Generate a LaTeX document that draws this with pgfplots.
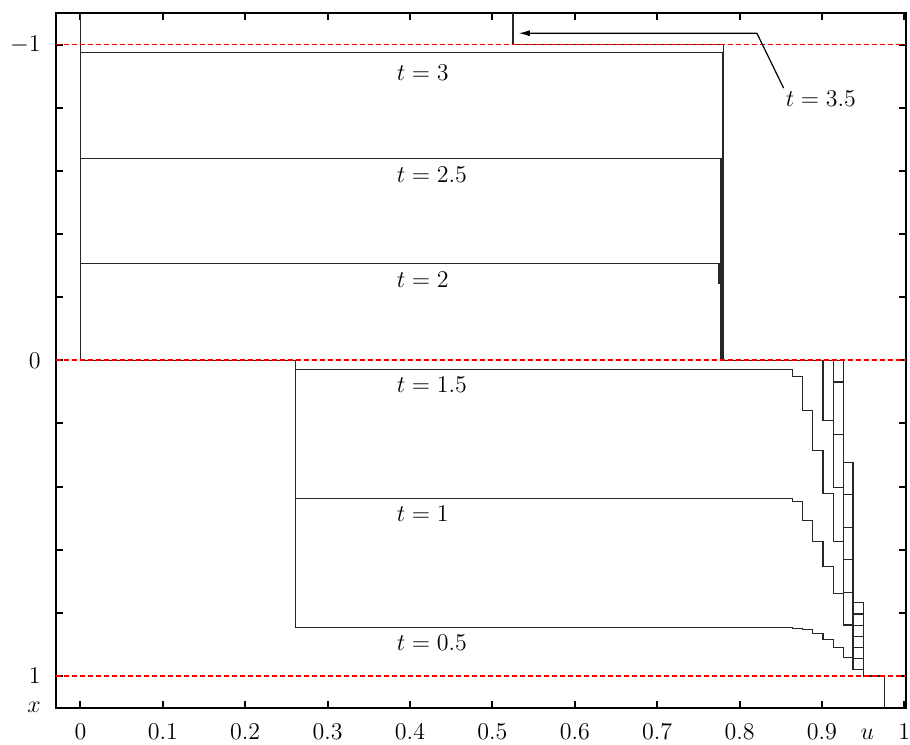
\documentclass[border=0pt]{standalone}
\usepackage{pgfplots}
\pgfplotsset{compat=1.18}
\usetikzlibrary{arrows.meta}
\begin{document}
\begin{tikzpicture}
\begin{axis}[
  scale only axis, width=425.2pt, height=347.3pt,
  xmin=-0.03, xmax=1.002, ymin=-1.1, ymax=1.1, y dir=reverse,
  xtick={0,0.1,0.2,0.3,0.4,0.5,0.6,0.7,0.8,0.9,1},
  xticklabels={$0$,$0.1$,$0.2$,$0.3$,$0.4$,$0.5$,$0.6$,$0.7$,$0.8$,$0.9$,$1$},
  ytick={-1,-0.8,-0.6,-0.4,-0.2,0,0.2,0.4,0.6,0.8,1},
  yticklabels={$-1$,,,,,$0$,,,,,$1$},
  tick align=inside, major tick length=3.5pt,
  tick style={black, line width=1pt},
  axis line style={line width=1pt},
  ticklabel style={font=\fontsize{12}{14}\selectfont},
  xticklabel style={yshift=-4.5pt},
  yticklabel style={xshift=-4pt},
  extra y ticks={1.1}, extra y tick labels={$x$},
  extra y tick style={major tick length=0pt},
  clip mode=individual,
  curve/.style={black!85, line width=0.55pt, solid, mark=none},
  refl/.style={red, line width=0.8pt, dash pattern=on 2.5pt off 1.5pt, mark=none},
]
% t = 3.5
\addplot[curve] coordinates {(0.525,-1.1) (0.525,-1.0) (0.780,-1.0) (0.780,0) (0.9256,0) (0.9256,0.3232) (0.9377,0.3232) (0.9377,0.7683) (0.9499,0.7683) (0.9499,1) (0.9757,1) (0.9757,1.1)};
% t = 3
\addplot[curve] coordinates {(0,-1.1) (0,-0.975) (0.779,-0.975) (0.779,0) (0.9135,0) (0.9135,0.0687) (0.9256,0.0687) (0.9256,0.4255) (0.9377,0.4255) (0.9377,0.8037) (0.9499,0.8037) (0.9499,1) (0.9757,1) (0.9757,1.1)};
% t = 2.5
\addplot[curve] coordinates {(0,-1.1) (0,-0.638) (0.7775,-0.638) (0.7775,0) (0.9135,0) (0.9135,0.2355) (0.9256,0.2355) (0.9256,0.5299) (0.9377,0.5299) (0.9377,0.8395) (0.9499,0.8395) (0.9499,1) (0.9757,1) (0.9757,1.1)};
% t = 2
\addplot[curve] coordinates {(0,-1.1) (0,-0.306) (0.775,-0.306) (0.775,-0.2425) (0.7767,-0.2425) (0.7767,0) (0.9013,0) (0.9013,0.1912) (0.9135,0.1912) (0.9135,0.4042) (0.9256,0.4042) (0.9256,0.6312) (0.9377,0.6312) (0.9377,0.874) (0.9499,0.874) (0.9499,1) (0.9757,1) (0.9757,1.1)};
% t = 1.5
\addplot[curve] coordinates {(0,-1.1) (0,0) (0.261,0) (0.261,0.0298) (0.864,0.0298) (0.864,0.051) (0.8766,0.051) (0.8766,0.1595) (0.8887,0.1595) (0.8887,0.2862) (0.9013,0.2862) (0.9013,0.4232) (0.9135,0.4232) (0.9135,0.5733) (0.9256,0.5733) (0.9256,0.7347) (0.9377,0.7347) (0.9377,0.9088) (0.9499,0.9088) (0.9499,1) (0.9757,1) (0.9757,1.1)};
% t = 1
\addplot[curve] coordinates {(0,-1.1) (0,0) (0.261,0) (0.261,0.4375) (0.864,0.4375) (0.864,0.4486) (0.8766,0.4486) (0.8766,0.5074) (0.8887,0.5074) (0.8887,0.5752) (0.9013,0.5752) (0.9013,0.6543) (0.9135,0.6543) (0.9135,0.7398) (0.9256,0.7398) (0.9256,0.8386) (0.9377,0.8386) (0.9377,0.9437) (0.9499,0.9437) (0.9499,1) (0.9757,1) (0.9757,1.1)};
% t = 0.5
\addplot[curve] coordinates {(0,-1.1) (0,0) (0.261,0) (0.261,0.8465) (0.864,0.8465) (0.864,0.8487) (0.8766,0.8487) (0.8766,0.8528) (0.8887,0.8528) (0.8887,0.8661) (0.9013,0.8661) (0.9013,0.8845) (0.9135,0.8845) (0.9135,0.9098) (0.9256,0.9098) (0.9256,0.9424) (0.9377,0.9424) (0.9377,0.9794) (0.9499,0.9794) (0.9499,1) (0.9757,1) (0.9757,1.1)};
% reference lines
\addplot[refl] coordinates {(-0.03,-1) (1.002,-1)};
\addplot[refl] coordinates {(-0.03,0) (1.002,0)};
\addplot[refl] coordinates {(-0.03,1) (1.002,1)};
% labels
\begin{scope}[every node/.style={anchor=base west, font=\fontsize{13}{15}\selectfont, inner sep=0pt}]
\node at (axis cs:0.3835,-0.8858) {$t = 3$};
\node at (axis cs:0.3835,-0.5644) {$t = 2.5$};
\node at (axis cs:0.3835,-0.232) {$t = 2$};
\node at (axis cs:0.3835,0.1035) {$t = 1.5$};
\node at (axis cs:0.3835,0.5103) {$t = 1$};
\node at (axis cs:0.3835,0.920) {$t = 0.5$};
\node at (axis cs:0.8556,-0.8037) {$t = 3.5$};
\end{scope}
\node[anchor=base, inner sep=0pt, font=\fontsize{12}{14}\selectfont, yshift=-16.15pt] at (axis cs:0.955,1.1) {$u$};
\draw[black, line width=0.6pt, -{Latex[length=5.5pt,width=3pt]}] (axis cs:0.8535,-0.862) -- (axis cs:0.821,-1.036) -- (axis cs:0.532,-1.036);
\end{axis}
\pgfresetboundingbox
\path[use as bounding box] ([shift={(-27.85pt,-18.65pt)}]current axis.south west) rectangle ([shift={(2pt,6.5pt)}]current axis.north east);
\end{tikzpicture}
\end{document}
